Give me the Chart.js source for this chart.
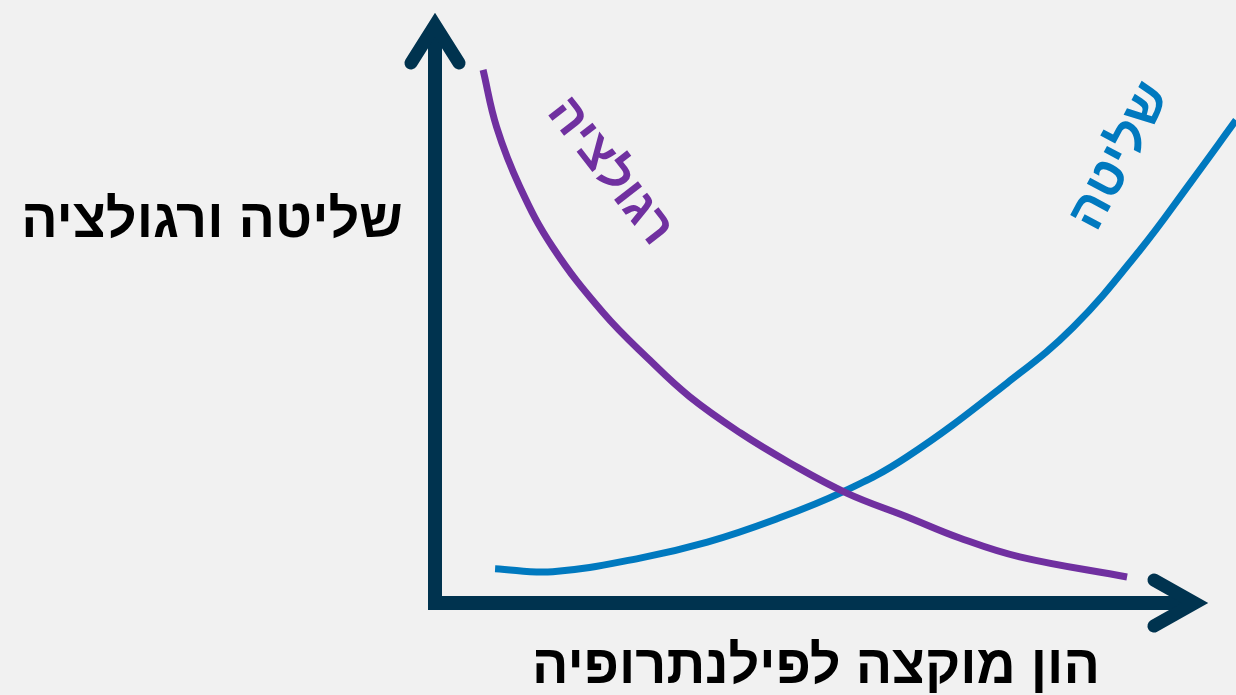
<!DOCTYPE html>
<html lang="he">
<head>
<meta charset="utf-8">
<title>שליטה ורגולציה</title>
<script src="https://cdn.jsdelivr.net/npm/chart.js@4.4.1/dist/chart.umd.min.js"></script>
<style>
    html, body {
        margin: 0;
        padding: 0;
        background: #f1f1f1;
        overflow: hidden;
    }
    #chartBox {
        width: 1236px;
        height: 695px;
    }
</style>
</head>
<body>
<div id="chartBox">
    <canvas id="philChart" width="1236" height="695"></canvas>
</div>
<script>
// Data kurva (skala 0-100 di kedua sumbu)
const regulationX = [6.0, 7.7, 10.6, 14.7, 21.0, 26.8, 31.8, 38.1, 44.3, 51.4, 58.9, 65.5, 73.0, 86.4];
const regulationY = [90.2, 80.5, 70.4, 60.2, 49.1, 41.1, 34.9, 28.8, 23.7, 18.6, 14.6, 11.0, 7.8, 4.4];

const controlX = [7.5, 14.7, 25.6, 34.0, 42.2, 50.9, 58.9, 71.4, 79.7, 88.0, 94.3, 100];
const controlY = [5.8, 5.3, 7.6, 10.3, 14.0, 18.8, 24.7, 37.2, 46.7, 59.7, 71.1, 81.7];

const seriesNames = ['רגולציה', 'שליטה'];
const yAxisTitle = 'שליטה ורגולציה';
const xAxisTitle = 'הון מוקצה לפילנתרופיה';

const AXIS_COLOR = '#00334f';
const PURPLE = '#7030a0';
const BLUE = '#0079bf';
const HEB_FONT = '"Liberation Sans", "DejaVu Sans", sans-serif';

function toPoints(xs, ys) {
    return xs.map((x, i) => ({ x: x, y: ys[i] }));
}

// Sumbu dengan panah + judul + label kurva
const arrowAxes = {
    id: 'arrowAxes',
    beforeDatasetsDraw(chart) {
        const ctx = chart.ctx;
        const x = chart.scales.x;
        const y = chart.scales.y;
        const x0 = x.getPixelForValue(0);
        const y0 = y.getPixelForValue(0);
        const yTip = y.getPixelForValue(100);
        const xTip = x.getPixelForValue(96.5);

        ctx.save();
        ctx.strokeStyle = AXIS_COLOR;
        ctx.lineWidth = 14;
        ctx.lineCap = 'butt';

        // garis sumbu
        ctx.beginPath();
        ctx.moveTo(x0, y0 + 7);
        ctx.lineTo(x0, yTip + 12);
        ctx.moveTo(x0 - 7, y0);
        ctx.lineTo(xTip - 12, y0);
        ctx.stroke();

        // kepala panah
        ctx.lineCap = 'round';
        ctx.lineJoin = 'miter';
        ctx.miterLimit = 10;
        ctx.lineWidth = 13;
        ctx.beginPath();
        ctx.moveTo(x0 - 24, yTip + 51);
        ctx.lineTo(x0, yTip + 13);
        ctx.lineTo(x0 + 24, yTip + 51);
        ctx.stroke();

        ctx.beginPath();
        ctx.moveTo(xTip - 54, y0 - 23);
        ctx.lineTo(xTip - 13, y0);
        ctx.lineTo(xTip - 54, y0 + 23);
        ctx.stroke();
        ctx.restore();
    },
    afterDraw(chart) {
        const ctx = chart.ctx;
        const x = chart.scales.x;
        const y = chart.scales.y;

        ctx.save();
        ctx.direction = 'rtl';
        ctx.textAlign = 'center';
        ctx.textBaseline = 'middle';

        // judul sumbu
        ctx.fillStyle = '#000';
        ctx.font = 'bold 54px ' + HEB_FONT;
        ctx.fillText(yAxisTitle, 212, 222);
        ctx.fillText(xAxisTitle, 816, 668);

        // label kurva (diputar mengikuti garis)
        ctx.font = 'bold 50px ' + HEB_FONT;
        ctx.fillStyle = PURPLE;
        ctx.translate(x.getPixelForValue(21.8), y.getPixelForValue(73.0));
        ctx.rotate(52 * Math.PI / 180);
        ctx.fillText(seriesNames[0], 0, 0);
        ctx.setTransform(1, 0, 0, 1, 0, 0);

        ctx.font = 'bold 52px ' + HEB_FONT;
        ctx.fillStyle = BLUE;
        ctx.translate(x.getPixelForValue(85.6), y.getPixelForValue(75.5));
        ctx.rotate(-62 * Math.PI / 180);
        ctx.fillText(seriesNames[1], 0, 0);
        ctx.restore();
    }
};

const ctx = document.getElementById('philChart').getContext('2d');
new Chart(ctx, {
    type: 'line',
    data: {
        datasets: [
            {
                label: seriesNames[0],
                data: toPoints(regulationX, regulationY),
                borderColor: PURPLE,
                borderWidth: 7,
                pointRadius: 0,
                tension: 0.4,
                borderCapStyle: 'butt',
                fill: false,
                clip: false
            },
            {
                label: seriesNames[1],
                data: toPoints(controlX, controlY),
                borderColor: BLUE,
                borderWidth: 7,
                pointRadius: 0,
                tension: 0.4,
                borderCapStyle: 'butt',
                fill: false,
                clip: false
            }
        ]
    },
    options: {
        responsive: false,
        animation: false,
        layout: {
            padding: { left: 435, right: 0, top: 12, bottom: 92 }
        },
        scales: {
            x: { type: 'linear', min: 0, max: 100, display: false },
            y: { type: 'linear', min: 0, max: 100, display: false }
        },
        plugins: {
            legend: { display: false },
            tooltip: { enabled: false }
        }
    },
    plugins: [arrowAxes]
});
</script>
</body>
</html>
